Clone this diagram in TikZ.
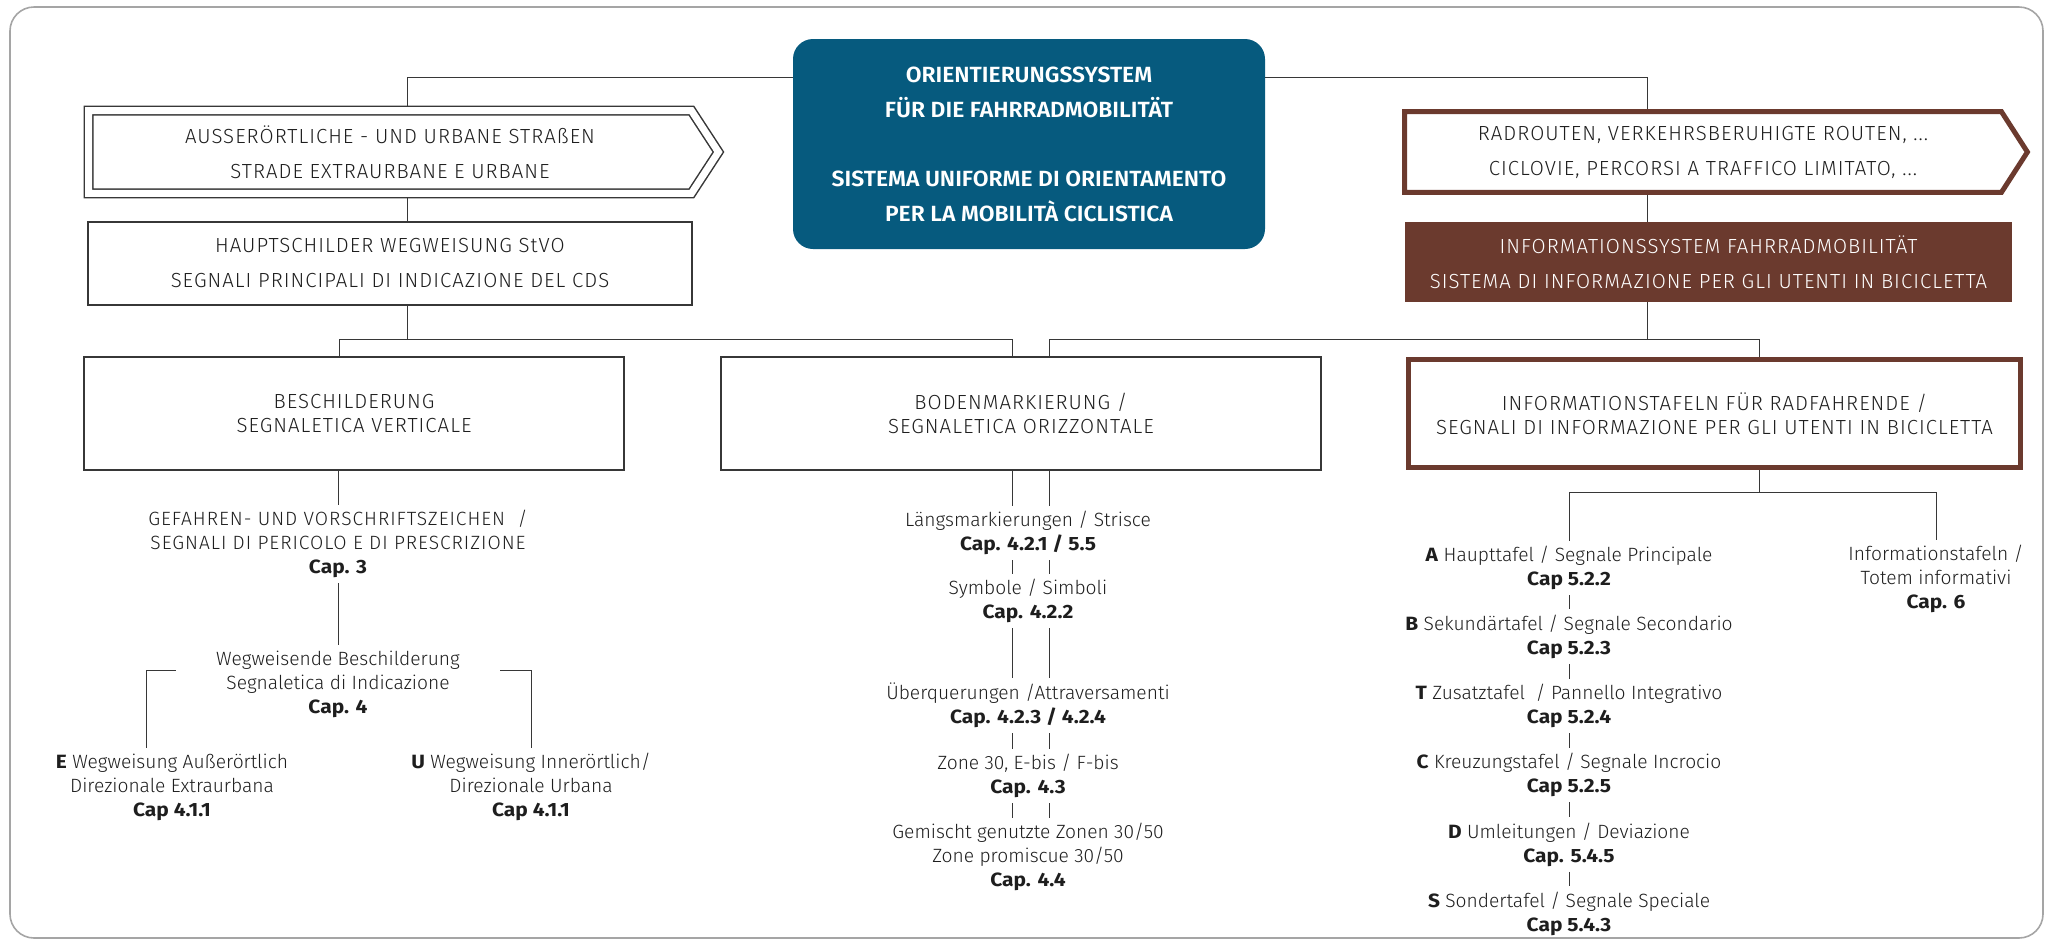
\documentclass[tikz,border=0pt]{standalone}
\usepackage{fontspec}
\setmainfont{Fira Sans}[UprightFont=* Light, BoldFont=* Bold, BoldFeatures={FakeStretch=1.09}]
\newfontfamily\capsfont{Fira Sans}[UprightFont=* Light, LetterSpace=5]
\newfontfamily\titlefont{Fira Sans}[UprightFont=* SemiBold, FakeStretch=1.04]
\usetikzlibrary{calc}

\definecolor{orientblue}{RGB}{6,90,126}
\definecolor{infobrown}{RGB}{107,58,46}
\definecolor{linegray}{RGB}{55,55,55}
\definecolor{framegray}{RGB}{165,165,165}
\definecolor{txtgray}{RGB}{30,30,30}

\tikzset{
  link/.style   = {draw=linegray, line width=0.5pt},
  capbox/.style = {align=center, text=txtgray, inner sep=0pt,
                   font=\capsfont\fontsize{10.2}{17.5}\selectfont},
  subbox/.style = {draw=linegray, line width=0.7pt, align=center, text=txtgray,
                   inner sep=0pt, font=\capsfont\fontsize{10.2}{12}\selectfont},
  item/.style   = {align=center, text=txtgray, inner sep=2.5pt,
                   font=\fontsize{9.6}{12}\selectfont},
}

\begin{document}
\begin{tikzpicture}[x=0.5pt, y=-0.5pt, line join=miter]
  \useasboundingbox (0,0) rectangle (2051,944);
  \draw[framegray, line width=0.8pt, rounded corners=12pt] (10,7) rectangle (2043,938);

  % top level
  \node[fill=orientblue, rounded corners=10pt, minimum width=236pt, minimum height=105pt,
        text=white, align=center, font=\titlefont\fontsize{11}{17.5}\selectfont]
        (orient) at (1029,144)
        {ORIENTIERUNGSSYSTEM\\FÜR DIE FAHRRADMOBILITÄT\\[17pt]SISTEMA UNIFORME DI ORIENTAMENTO\\PER LA MOBILITÀ CICLISTICA};

  \node[capbox, minimum width=301pt, minimum height=41pt] (strade) at (390,152)
        {AUSSERÖRTLICHE - UND URBANE STRAßEN\\STRADE EXTRAURBANE E URBANE};
  \node[capbox, minimum width=298pt, minimum height=40pt] (radr) at (1703,152)
        {RADROUTEN, VERKEHRSBERUHIGTE ROUTEN, ...\\CICLOVIE, PERCORSI A TRAFFICO LIMITATO, ...};

  \node[capbox, draw=linegray, line width=0.7pt, minimum width=302pt, minimum height=41.5pt]
        (haupt) at (390,263.5)
        {HAUPTSCHILDER WEGWEISUNG StVO\\SEGNALI PRINCIPALI DI INDICAZIONE DEL CDS};
  \node[capbox, fill=infobrown, text=white, minimum width=303.5pt, minimum height=40pt]
        (infosys) at (1708.5,262)
        {INFORMATIONSSYSTEM FAHRRADMOBILITÄT\\SISTEMA DI INFORMAZIONE PER GLI UTENTI IN BICICLETTA};

  % second level
  \node[subbox, minimum width=270pt, minimum height=56.5pt] (besch) at (354,413.5)
        {BESCHILDERUNG\\SEGNALETICA VERTICALE};
  \node[subbox, minimum width=300pt, minimum height=56.5pt] (boden) at (1021,413.5)
        {BODENMARKIERUNG /\\SEGNALETICA ORIZZONTALE};
  \node[subbox, draw=infobrown, line width=2.5pt, minimum width=306pt, minimum height=54pt]
        (tafeln) at (1714.5,413.5)
        {INFORMATIONSTAFELN FÜR RADFAHRENDE /\\SEGNALI DI INFORMAZIONE PER GLI UTENTI IN BICICLETTA};

  % left column
  \node[item] (gef) at (338,544) {{\capsfont GEFAHREN- UND VORSCHRIFTSZEICHEN\ \ /}\\{\capsfont SEGNALI DI PERICOLO E DI PRESCRIZIONE}\\\textbf{Cap. 3}};
  \node[item] (weg) at (338,684) {Wegweisende Beschilderung\\Segnaletica di Indicazione\\\textbf{Cap. 4}};
  \node[item] (wegE) at (172,787) {\textbf{E} Wegweisung Außerörtlich\\Direzionale Extraurbana\\\textbf{Cap 4.1.1}};
  \node[item] (wegU) at (531,787) {\textbf{U} Wegweisung Innerörtlich/\\Direzionale Urbana\\\textbf{Cap 4.1.1}};

  % middle column
  \node[item] (lang) at (1028,533)   {Längsmarkierungen / Strisce\\\textbf{Cap. 4.2.1 / 5.5}};
  \node[item] (symb) at (1028,601)   {Symbole / Simboli\\\textbf{Cap. 4.2.2}};
  \node[item] (uber) at (1028,705.5) {Überquerungen /Attraversamenti\\\textbf{Cap. 4.2.3 / 4.2.4}};
  \node[item] (zone) at (1028,776)   {Zone 30, E-bis / F-bis\\\textbf{Cap. 4.3}};
  \node[item] (gem)  at (1028,857)   {Gemischt genutzte Zonen 30/50\\Zone promiscue 30/50\\\textbf{Cap. 4.4}};

  % right column
  \node[item] (tA) at (1569,568)   {\textbf{A} Haupttafel / Segnale Principale\\\textbf{Cap 5.2.2}};
  \node[item] (tB) at (1569,636.5) {\textbf{B} Sekundärtafel / Segnale Secondario\\\textbf{Cap 5.2.3}};
  \node[item] (tT) at (1569,706)   {\textbf{T} Zusatztafel\ \ / Pannello Integrativo\\\textbf{Cap 5.2.4}};
  \node[item] (tC) at (1569,775)   {\textbf{C} Kreuzungstafel / Segnale Incrocio\\\textbf{Cap 5.2.5}};
  \node[item] (tD) at (1569,844.5) {\textbf{D} Umleitungen / Deviazione\\\textbf{Cap. 5.4.5}};
  \node[item] (tS) at (1569,913.5) {\textbf{S} Sondertafel / Segnale Speciale\\\textbf{Cap 5.4.3}};
  \node[item] (tInfo) at (1936,579) {Informationstafeln /\\Totem informativi\\\textbf{Cap. 6}};

  % junctions
  \coordinate (jL) at (407,77);
  \coordinate (jR) at (1647,77);
  \coordinate (busL) at (407,339);
  \coordinate (busR) at (1647,339);
  \coordinate (dBe) at (339,339);
  \coordinate (dBoL) at (1012,339);
  \coordinate (dBoR) at (1049,339);
  \coordinate (dTa) at (1759,339);
  \coordinate (busT) at (1759,492);

  % connectors
  \draw[link] (orient.west |- jL) -- (jL) -- (jL |- strade.north);
  \draw[link] (jL |- strade.south) -- (jL |- haupt.north);
  \draw[link] (jL |- haupt.south) -- (busL);
  \draw[link] (orient.east |- jR) -- (jR) -- (jR |- radr.north);
  \draw[link] (jR |- radr.south) -- (jR |- infosys.north);
  \draw[link] (jR |- infosys.south) -- (busR);
  \draw[link] (dBe |- besch.north) -- (dBe) -- (dBoL) -- (dBoL |- boden.north);
  \draw[link] (dBoR |- boden.north) -- (dBoR) -- (dTa) -- (dTa |- tafeln.north);

  \draw[link] (gef.north) -- (gef.north |- besch.south);
  \draw[link] (gef.south) -- (weg.north);
  \draw[link] ($(weg.west)+(-35,-14)$) -| ($(wegE.north)+(-26,0)$);
  \draw[link] ($(weg.east)+(35,-14)$) -| (wegU.north);

  \foreach \a/\b in {boden/lang, lang/symb, symb/uber, uber/zone, zone/gem}
  {
      \draw[link] (dBoL |- \a.south) -- (dBoL |- \b.north);
      \draw[link] (dBoR |- \a.south) -- (dBoR |- \b.north);
  }

  \draw[link] (busT |- tafeln.south) -- (busT);
  \draw[link] (tA.north) |- (busT) -| (tInfo.north);
  \foreach \a/\b in {tA/tB, tB/tT, tT/tC, tC/tD, tD/tS}
      \draw[link] (\a.south) -- (\b.north);

  % arrow outlines
  \draw[linegray, line width=0.75pt, double, double distance=3.5pt]
       (strade.north west) -- (strade.north east) -- ($(strade.east)+(27,0)$)
       -- (strade.south east) -- (strade.south west) -- cycle;
  \draw[infobrown, line width=2.5pt]
       (radr.north west) -- (radr.north east) -- ($(radr.east)+(26,0)$)
       -- (radr.south east) -- (radr.south west) -- cycle;
\end{tikzpicture}
\end{document}
